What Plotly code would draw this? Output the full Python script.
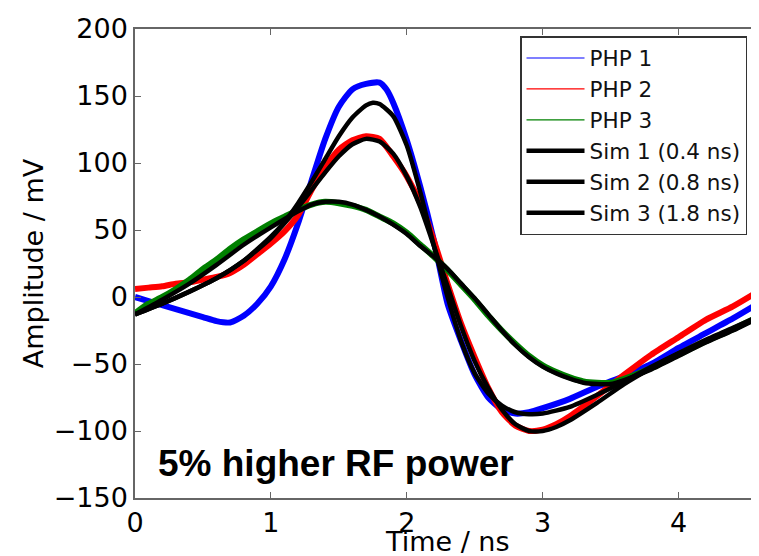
import plotly.graph_objects as go

# ---- data (time in ns, amplitude in mV) ----
t_php1 = [0.0, 0.1, 0.2, 0.3, 0.4, 0.5, 0.6, 0.7, 0.8, 0.9, 1.0, 1.1, 1.2, 1.3, 1.4, 1.5, 1.6, 1.7,
          1.8, 1.85, 1.9, 2.0, 2.1, 2.2, 2.3, 2.4, 2.5, 2.6, 2.7, 2.8, 2.9, 3.0, 3.2, 3.4, 3.6, 3.8,
          4.0, 4.2, 4.4, 4.6]
v_php1 = [0, -3, -6, -9, -12, -15, -18, -19, -14, -5, 8, 28, 55, 87, 118, 142, 155, 159,
          160, 155, 145, 117, 82, 42, -5, -33, -58, -75, -84, -87, -86, -83, -76, -67, -59, -50,
          -38, -27, -16, -4]

t_php2 = [0.0, 0.1, 0.2, 0.3, 0.4, 0.5, 0.6, 0.7, 0.8, 0.9, 1.0, 1.1, 1.2, 1.3, 1.4, 1.5, 1.6, 1.7,
          1.8, 1.9, 2.0, 2.1, 2.2, 2.3, 2.4, 2.5, 2.6, 2.7, 2.8, 2.9, 3.0, 3.1, 3.2, 3.4, 3.6, 3.8,
          4.0, 4.2, 4.4, 4.6]
v_php2 = [6, 7, 8, 10, 11, 13, 15, 18, 24, 32, 40, 49, 61, 80, 97, 110, 117, 120,
          118, 105, 90, 70, 42, 10, -20, -45, -68, -86, -96, -100, -99, -95, -89, -74, -58, -43,
          -30, -17, -7, 5]

t_php3 = [0.0, 0.1, 0.2, 0.3, 0.4, 0.5, 0.6, 0.7, 0.8, 0.9, 1.0, 1.1, 1.2, 1.3, 1.4, 1.5, 1.6, 1.7,
          1.8, 1.9, 2.0, 2.1, 2.2, 2.3, 2.4, 2.5, 2.6, 2.7, 2.8, 2.9, 3.0, 3.1, 3.2, 3.3, 3.4, 3.5,
          3.6, 3.8, 4.0, 4.2, 4.4, 4.6]
v_php3 = [-12, -5, 0, 6, 13, 21, 28, 36, 43, 49, 55, 60, 65, 69, 71, 70, 68, 65,
          60, 55, 48, 39, 30, 20, 9, -2, -14, -25, -35, -44, -51, -56, -60, -63, -64, -64,
          -61, -53, -43, -33, -24, -14]

t_sim1 = [0.0, 0.2, 0.4, 0.6, 0.8, 1.0, 1.1, 1.2, 1.3, 1.4, 1.5, 1.6, 1.7, 1.75, 1.8, 1.9, 2.0,
          2.1, 2.2, 2.3, 2.4, 2.5, 2.6, 2.7, 2.8, 2.9, 3.0, 3.2, 3.4, 3.6, 3.8, 4.0, 4.2, 4.4, 4.6]
v_sim1 = [-13, -5, 4, 14, 27, 45, 56, 70, 86, 103, 120, 134, 143, 145, 144, 135, 113,
          78, 38, 0, -33, -57, -72, -81, -86, -87.5, -87, -82, -73, -63, -52, -42, -33, -24, -15]

t_sim2 = [0.0, 0.2, 0.4, 0.6, 0.8, 1.0, 1.1, 1.2, 1.3, 1.4, 1.5, 1.6, 1.7, 1.8, 1.9, 2.0, 2.1,
          2.2, 2.3, 2.4, 2.5, 2.6, 2.7, 2.8, 2.9, 3.0, 3.1, 3.2, 3.4, 3.6, 3.8, 4.0, 4.2, 4.4, 4.6]
v_sim2 = [-13, -5, 4, 14, 27, 44, 55, 67, 80, 93, 105, 114, 118, 116, 107, 90, 67,
          38, 8, -22, -48, -68, -84, -95, -100, -100, -97, -92, -79, -65, -53, -42, -32, -23, -14]

t_sim3 = [0.0, 0.2, 0.4, 0.6, 0.8, 1.0, 1.2, 1.3, 1.4, 1.5, 1.6, 1.7, 1.8, 1.9, 2.0, 2.1, 2.2,
          2.3, 2.4, 2.5, 2.6, 2.7, 2.8, 2.9, 3.0, 3.1, 3.2, 3.3, 3.4, 3.5, 3.6, 3.8, 4.0, 4.2, 4.4, 4.6]
v_sim3 = [-13, -2, 10, 24, 39, 52, 64, 69, 71, 71, 69, 65, 60, 54, 47, 38, 30,
          21, 10, -1, -13, -25, -36, -45, -52, -57, -61, -64, -65, -65, -62, -54, -44, -34, -25, -15]

x_ticks = [0, 1, 2, 3, 4]
y_ticks = [-150, -100, -50, 0, 50, 100, 150, 200]

php_names = ["PHP 1", "PHP 2", "PHP 3"]
sim_names = ["Sim 1 (0.4 ns)", "Sim 2 (0.8 ns)", "Sim 3 (1.8 ns)"]
php_colors = ["#0000ff", "#ff0000", "#008000"]

FONT = "DejaVu Sans"

fig = go.Figure()

php_data = [(t_php1, v_php1), (t_php2, v_php2), (t_php3, v_php3)]
for (tx, vy), name, col in zip(php_data, php_names, php_colors):
    fig.add_trace(go.Scatter(x=tx, y=vy, mode="lines", name=name, showlegend=False,
                             line=dict(color=col, width=6, shape="spline", smoothing=0.6),
                             hoverinfo="skip"))

sim_data = [(t_sim1, v_sim1), (t_sim2, v_sim2), (t_sim3, v_sim3)]
for i, ((tx, vy), name) in enumerate(zip(sim_data, sim_names)):
    fig.add_trace(go.Scatter(x=tx, y=vy, mode="lines", name=name, legendrank=4 + i,
                             legendgroup=name,
                             line=dict(color="black", width=4.5, shape="spline", smoothing=0.6)))

# legend entries for measured traces (thin lines, as in the reference legend)
for i, (name, col) in enumerate(zip(php_names, php_colors)):
    fig.add_trace(go.Scatter(x=[None], y=[None], mode="lines", name=name, legendrank=1 + i,
                             legendgroup=name, line=dict(color=col, width=1.2)))

fig.add_annotation(text="<b>5% higher RF power</b>", x=1.48, y=-124, xref="x", yref="y",
                   xanchor="center", yanchor="middle", showarrow=False,
                   font=dict(family="Liberation Sans, Arial", size=37, color="black"))

# x-axis title placed as paper annotation so it sits where the reference has it
fig.add_annotation(text="Time / ns", x=0.5, y=-0.092, xref="paper", yref="paper",
                   xanchor="center", yanchor="middle", showarrow=False,
                   font=dict(family=FONT, size=27, color="black"))

axis_common = dict(showgrid=False, zeroline=False, showline=True, linecolor="#666666", linewidth=1.5,
                   ticks="inside", ticklen=6, tickcolor="#666666", tickwidth=1, automargin=False,
                   tickfont=dict(family=FONT, size=27, color="black"))

# the page body adds an 8 px offset; margins compensate so the plot area lands where the reference has it
fig.update_layout(
    width=759, height=556,
    margin=dict(l=127, r=8, t=21, b=66),
    paper_bgcolor="white", plot_bgcolor="white",
    xaxis=dict(range=[0, 4.592], tickvals=x_ticks, ticktext=[str(v) for v in x_ticks], mirror="ticks",
               **axis_common),
    yaxis=dict(range=[-150, 200], tickvals=y_ticks,
               ticktext=[("\u2212" + str(-v)) if v < 0 else str(v) for v in y_ticks],
               title=dict(text="Amplitude / mV", font=dict(family=FONT, size=27, color="black"), standoff=2),
               **axis_common),
    legend=dict(x=0.617, y=0.985, xanchor="left", yanchor="top", traceorder="grouped",
                tracegroupgap=0, itemwidth=58, bgcolor="white", bordercolor="#333333", borderwidth=1.5,
                font=dict(family=FONT, size=21.5, color="#111111")),
    showlegend=True,
)

fig.write_html("out.html")
